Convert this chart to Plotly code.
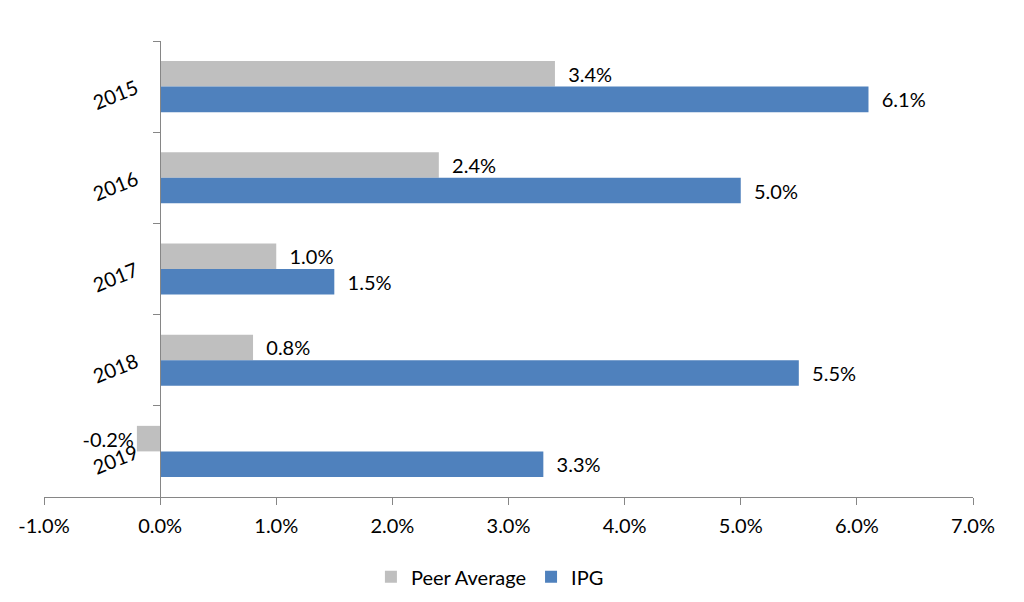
import plotly.graph_objects as go

years = ["2015", "2016", "2017", "2018", "2019"]
peer_average = [3.4, 2.4, 1.0, 0.8, -0.2]
ipg = [6.1, 5.0, 1.5, 5.5, 3.3]
x_ticks = [-1, 0, 1, 2, 3, 4, 5, 6, 7]
x_tick_labels = ["-1.0%", "0.0%", "1.0%", "2.0%", "3.0%", "4.0%", "5.0%", "6.0%", "7.0%"]

FONT = "Lato"
FS = 20
AXIS_COLOR = "#868686"
PAD = "\u00a0\u00a0"

def labels(vals):
    return [(PAD + f"{v:.1f}%") if v >= 0 else f"{v:.1f}%" for v in vals]

fig = go.Figure()
fig.add_trace(go.Bar(
    name="Peer Average", y=years, x=peer_average, orientation="h",
    marker=dict(color="#BFBFBF", line=dict(width=0)),
    text=labels(peer_average), texttemplate="%{text}", textposition="outside", cliponaxis=False,
    textfont=dict(family=FONT, size=FS, color="#000000"),
))
fig.add_trace(go.Bar(
    name="IPG", y=years, x=ipg, orientation="h",
    marker=dict(color="#4F81BD", line=dict(width=0)),
    text=labels(ipg), texttemplate="%{text}", textposition="outside", cliponaxis=False,
    textfont=dict(family=FONT, size=FS, color="#000000"),
))

fig.update_layout(
    width=1024, height=602,
    margin=dict(l=36, r=59, t=33, b=113, autoexpand=False),
    paper_bgcolor="white", plot_bgcolor="white",
    barmode="group", bargap=0.44, bargroupgap=0,
    font=dict(family=FONT, size=FS, color="#000000"),
    showlegend=True,
    legend=dict(orientation="h", x=0.48, xanchor="center", y=-0.175, yanchor="middle",
                font=dict(family=FONT, size=FS), itemwidth=30, traceorder="normal"),
    xaxis=dict(
        range=[-1, 7], tickvals=x_ticks, ticktext=x_tick_labels, automargin=False,
        showgrid=False, zeroline=False, showline=True, linecolor=AXIS_COLOR, linewidth=1.3,
        ticks="outside", ticklen=7, tickcolor=AXIS_COLOR, tickwidth=1.3,
        tickfont=dict(family=FONT, size=FS), ticklabelstandoff=4,
    ),
    yaxis=dict(
        type="category", categoryorder="array", categoryarray=years,
        range=[4.5, -0.5], anchor="free", position=0.125, automargin=False,
        showgrid=False, zeroline=False, showline=True, linecolor=AXIS_COLOR, linewidth=1.3,
        ticks="outside", ticklen=7, tickcolor=AXIS_COLOR, tickwidth=1.3,
        tickson="boundaries", tickangle=-22, ticklabelstandoff=20,
        tickfont=dict(family=FONT, size=FS),
    ),
)

fig.write_html("out.html")
